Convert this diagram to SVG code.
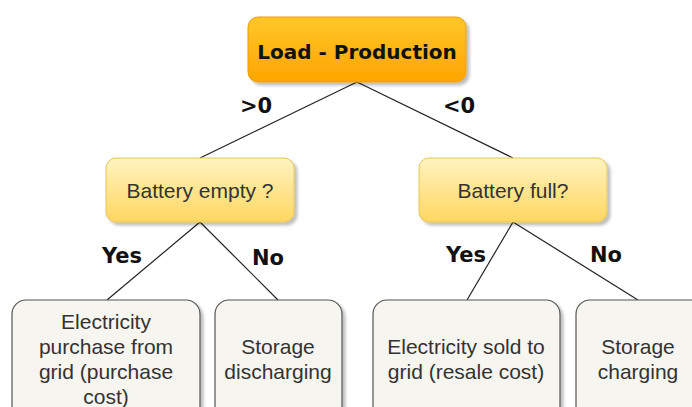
<svg xmlns="http://www.w3.org/2000/svg" width="692" height="407" viewBox="0 0 692 407">
<defs>
<linearGradient id="gOrange" x1="0" y1="0" x2="0" y2="1"><stop offset="0" stop-color="#ffc72a"/><stop offset="1" stop-color="#ffa400"/></linearGradient>
<linearGradient id="gYellow" x1="0" y1="0" x2="0" y2="1"><stop offset="0" stop-color="#fff3c0"/><stop offset="1" stop-color="#ffd760"/></linearGradient>
<filter id="sh" x="-10%" y="-10%" width="130%" height="130%"><feDropShadow dx="3" dy="3" stdDeviation="1.5" flood-color="#000" flood-opacity="0.25"/></filter>
</defs>
<style>
.t{font-family:"Liberation Sans",Arial,sans-serif;font-size:21px;fill:#333;text-anchor:middle}
.b{font-family:"DejaVu Sans",Verdana,sans-serif;font-size:20px;font-weight:bold;fill:#111;text-anchor:middle}
.lbl{font-family:"DejaVu Sans",Verdana,sans-serif;font-size:21px;font-weight:bold;fill:#111;text-anchor:middle}
.leaf{fill:#f7f5ef;stroke:#555;stroke-width:1.2}
.q{fill:url(#gYellow);stroke:#e6c45a;stroke-width:1}
.c{stroke:#222;stroke-width:1.2;fill:none}
</style>
<rect width="692" height="407" fill="#fff"/>
<g id="connectors">
<line class="c" x1="357" y1="82" x2="200" y2="158"/>
<line class="c" x1="357" y1="82" x2="513" y2="158"/>
<line class="c" x1="200" y1="222" x2="107" y2="300"/>
<line class="c" x1="200" y1="222" x2="278" y2="300"/>
<line class="c" x1="513" y1="222" x2="467" y2="300"/>
<line class="c" x1="513" y1="222" x2="638" y2="300"/>
<text class="lbl" x="256" y="113">&gt;0</text>
<text class="lbl" x="459" y="113">&lt;0</text>
<text class="lbl" x="122" y="263">Yes</text>
<text class="lbl" x="268" y="265">No</text>
<text class="lbl" x="466" y="262">Yes</text>
<text class="lbl" x="606" y="262">No</text>
</g>
<g id="n-load">
<rect x="248" y="17" width="218" height="65" rx="10" fill="url(#gOrange)" stroke="#e8a000" stroke-width="1" filter="url(#sh)"/>
<text class="b" x="357" y="59">Load - Production</text>
</g>
<g id="n-empty">
<rect class="q" x="106" y="158" width="188" height="64" rx="10" filter="url(#sh)"/>
<text class="t" x="200" y="198">Battery empty ?</text>
</g>
<g id="n-full">
<rect class="q" x="419" y="158" width="188" height="64" rx="10" filter="url(#sh)"/>
<text class="t" x="513" y="198">Battery full?</text>
</g>
<g id="n-purchase">
<rect class="leaf" x="12" y="300" width="188" height="120" rx="14" filter="url(#sh)"/>
<text class="t" x="106" y="329">Electricity</text>
<text class="t" x="106" y="354">purchase from</text>
<text class="t" x="106" y="379">grid (purchase</text>
<text class="t" x="106" y="404">cost)</text>
</g>
<g id="n-discharge">
<rect class="leaf" x="215" y="300" width="127" height="120" rx="14" filter="url(#sh)"/>
<text class="t" x="278" y="354">Storage</text>
<text class="t" x="278" y="379">discharging</text>
</g>
<g id="n-sold">
<rect class="leaf" x="373" y="300" width="187" height="120" rx="14" filter="url(#sh)"/>
<text class="t" x="466" y="354">Electricity sold to</text>
<text class="t" x="466" y="379">grid (resale cost)</text>
</g>
<g id="n-charge">
<rect class="leaf" x="576" y="300" width="140" height="120" rx="14" filter="url(#sh)"/>
<text class="t" x="638" y="354">Storage</text>
<text class="t" x="638" y="379">charging</text>
</g>
</svg>
